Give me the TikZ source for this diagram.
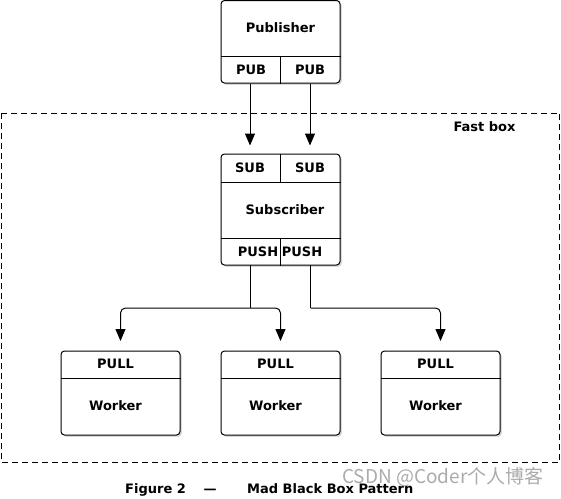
\documentclass[tikz,border=0pt]{standalone}
\usepackage{fontspec}
\setmainfont{DejaVu Sans}
\newfontfamily\cjk{Noto Sans CJK SC}
\usetikzlibrary{arrows.meta,shadows}
\begin{document}
\begin{tikzpicture}[x=1pt,y=-1pt,
  box/.style={draw, line width=1pt, fill=white, rounded corners=3.5pt, minimum width=119pt, inner sep=0pt,
    drop shadow={shadow xshift=1.8pt, shadow yshift=-1.8pt, opacity=0.3}},
  lbl/.style={font=\bfseries\fontsize{13}{15}\selectfont, inner sep=0pt},
  wire/.style={line width=1pt},
  arr/.style={wire, -{Triangle[width=10pt,length=12pt]}},
  fence/.style={line width=0.9pt, dash pattern=on 6pt off 4pt},
]
\useasboundingbox (0,0) rectangle (561,498);

% dashed "Fast box" frame
\draw[fence] (1.5,113) rectangle (559.5,462.5);
\node[lbl] (fastbox) at (484.5,127) {Fast box};

% Publisher
\node[box, minimum height=82.5pt] (pub) at (280.5,41.75) {};
\draw[wire] (pub.west |- 0,56) -- (pub.east |- 0,56);
\draw[wire] (pub.south) -- (pub.south |- 0,56);
\node[lbl] (pubname) at (280.5,28) {Publisher};
\node[lbl] (pub1) at (251,70) {PUB};
\node[lbl] (pub2) at (310,70) {PUB};

% Subscriber
\node[box, minimum height=111pt] (sub) at (280.5,209.5) {};
\draw[wire] (sub.west |- 0,182) -- (sub.east |- 0,182);
\draw[wire] (sub.west |- 0,238) -- (sub.east |- 0,238);
\draw[wire] (sub.north) -- (sub.north |- 0,182);
\draw[wire] (sub.south) -- (sub.south |- 0,238);
\node[lbl] (sub1) at (250,168) {SUB};
\node[lbl] (sub2) at (310,168) {SUB};
\node[lbl] (subname) at (285,210) {Subscriber};
\node[lbl] (push1) at (258,251.5) {PUSH};
\node[lbl] (push2) at (302,251.5) {PUSH};

% Workers
\foreach \i/\x in {1/120.5, 2/280.5, 3/440.5}{
  \node[box, minimum height=84pt] (w\i) at (\x,393) {};
  \draw[wire] (w\i.west |- 0,378.5) -- (w\i.east |- 0,378.5);
  \node[lbl] (pull\i) at (\x-5,364) {PULL};
  \node[lbl] (wname\i) at (\x-5,405.5) {Worker};
}

% ports and bus
\coordinate (outA) at (250.5,265);
\coordinate (outB) at (310.5,265);
\coordinate (bus) at (0,308);

% Publisher -> Subscriber
\draw[arr, shorten >=8pt] (sub1 |- pub.south) -- (sub1 |- sub.north);
\draw[arr, shorten >=8pt] (sub2 |- pub.south) -- (sub2 |- sub.north);

% Subscriber -> Workers
\draw[wire] (outA) -- (outA |- bus);
\draw[arr, rounded corners=5pt, shorten >=9.5pt] (outA |- bus) -| (w1.north);
\draw[arr, rounded corners=5pt, shorten >=9.5pt] (outA |- bus) -| (w2.north);
\draw[wire] (outB) -- (outB |- bus);
\draw[arr, rounded corners=5pt, shorten >=9.5pt] (outB |- bus) -| (w3.north);

% caption
\node[lbl, anchor=base west] (figno) at (125,493) {Figure 2};
\node[lbl, anchor=base] (figdash) at (210,493) {—};
\node[lbl, anchor=base west] (figtitle) at (247,493) {Mad Black Box Pattern};

% watermark
\node[anchor=west, inner sep=0pt, text=black!33, font=\cjk\fontsize{19}{21}\selectfont] (wm) at (342,477) {CSDN @Coder个人博客};
\end{tikzpicture}
\end{document}
